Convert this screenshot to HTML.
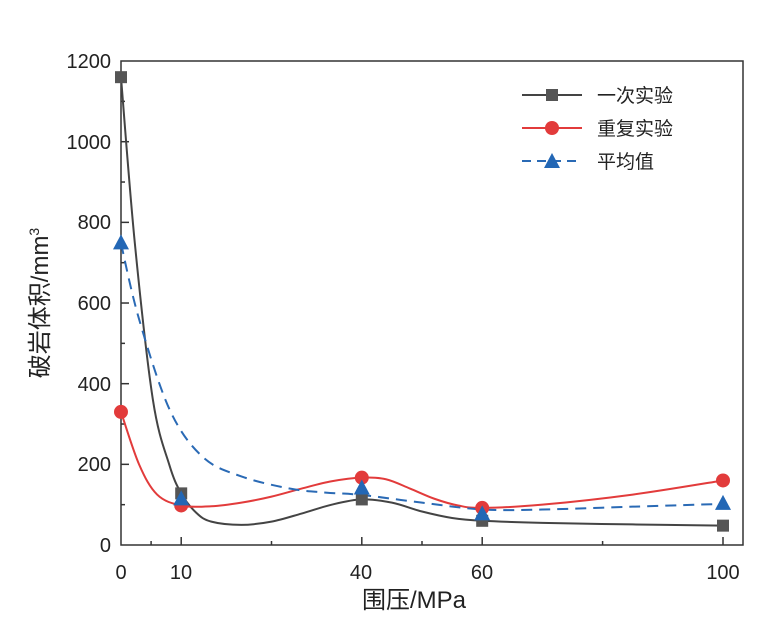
<!DOCTYPE html><html><head><style>body{margin:0;background:#fff}svg{font-family:"Liberation Sans","Noto Sans CJK SC",sans-serif}</style></head><body>
<svg id="s" width="763" height="623" xmlns="http://www.w3.org/2000/svg">
<rect x="121" y="61" width="622" height="484" fill="none" stroke="#333" stroke-width="1.5"/>
<g id="ticks" stroke="#333" stroke-width="1.5"></g>
<g font-size="20" fill="#222" text-anchor="end">
<text x="111" y="552">0</text><text x="111" y="471">200</text><text x="111" y="391">400</text><text x="111" y="310">600</text><text x="111" y="229">800</text><text x="111" y="149">1000</text><text x="111" y="68">1200</text></g>
<g font-size="20" fill="#222" text-anchor="middle">
<text x="121" y="579">0</text><text x="181" y="579">10</text><text x="361" y="579">40</text><text x="482" y="579">60</text><text x="723" y="579">100</text>
<text x="414" y="608" font-size="24">围压/MPa</text></g>
<text transform="translate(48,303) rotate(-90)" font-size="24" fill="#222" text-anchor="middle">破岩体积/mm<tspan font-size="14" dy="-9">3</tspan></text>
<g id="curves"></g>
<g font-size="19" fill="#222">
<line x1="522" y1="95" x2="582" y2="95" stroke="#444" stroke-width="2"/><rect x="546" y="89" width="12" height="12" fill="#555"/><text x="597" y="102">一次实验</text>
<line x1="522" y1="128" x2="582" y2="128" stroke="#e23b3b" stroke-width="2"/><circle cx="552" cy="128" r="7" fill="#e23b3b"/><text x="597" y="135">重复实验</text>
<line x1="522" y1="161" x2="582" y2="161" stroke="#2a6ab5" stroke-width="2" stroke-dasharray="9,6"/><polygon points="552,153 560,168 544,168" fill="#2367b5"/><text x="597" y="168">平均值</text>
</g>
</svg>
<script>
const X=v=>121+v*6.02,Y=v=>545-v*0.4033;
const t=document.getElementById('ticks');let h='';
[10,40,60,100].forEach(v=>h+=`<line x1="${X(v)}" y1="545" x2="${X(v)}" y2="537"/>`);
[5,25,50,80].forEach(v=>h+=`<line x1="${X(v)}" y1="545" x2="${X(v)}" y2="541"/>`);
for(let v=100;v<1200;v+=100)h+=`<line x1="121" y1="${Y(v)}" x2="${v%200?125:129}" y2="${Y(v)}"/>`;
t.innerHTML=h;
function cr(p){p=p.map(a=>[X(a[0]),Y(a[1])]);let d=`M${p[0][0]},${p[0][1]}`;
for(let i=0;i<p.length-1;i++){const a=p[i-1]||p[i],b=p[i],c=p[i+1],e=p[i+2]||c;
d+=`C${b[0]+(c[0]-a[0])/6},${b[1]+(c[1]-a[1])/6} ${c[0]-(e[0]-b[0])/6},${c[1]-(e[1]-b[1])/6} ${c[0]},${c[1]}`;}return d;}
const bk=[[0,1160],[2.3,748],[5.3,360],[8,200],[10,128],[12.5,80],[15,58],[20,50],[25,58],[30,78],[35,100],[40,113],[45,105],[50,83],[55,67],[60,60],[70,55],[85,51],[100,48]];
const rd=[[0,330],[3,200],[6,125],[10,98],[15,96],[20,105],[25,120],[30,140],[35,158],[40,167],[44,163],[48,140],[52,115],[56,98],[60,92],[70,100],[85,125],[100,160]];
const bl=[[0,748],[3,560],[8.1,335],[13.6,218],[20,170],[28,140],[34,130],[40,124],[50,105],[60,88],[70,88],[85,95],[100,102]];
let g=`<path d="${cr(bk)}" fill="none" stroke="#444" stroke-width="2"/>
<path d="${cr(rd)}" fill="none" stroke="#e23b3b" stroke-width="2"/>
<path d="${cr(bl)}" fill="none" stroke="#2a6ab5" stroke-width="2" stroke-dasharray="11,7"/>`;
[[0,1160],[10,128],[40,113],[60,60],[100,48]].forEach(a=>g+=`<rect x="${X(a[0])-6}" y="${Y(a[1])-6}" width="12" height="12" fill="#555"/>`);
[[0,330],[10,98],[40,167],[60,92],[100,160]].forEach(a=>g+=`<circle cx="${X(a[0])}" cy="${Y(a[1])}" r="7" fill="#e23b3b"/>`);
[[0,748],[10,113],[40,140],[60,76],[100,102]].forEach(a=>{const x=X(a[0]),y=Y(a[1]);g+=`<polygon points="${x},${y-9} ${x+8},${y+6} ${x-8},${y+6}" fill="#2367b5"/>`});
document.getElementById('curves').innerHTML=g;
</script></body></html>
